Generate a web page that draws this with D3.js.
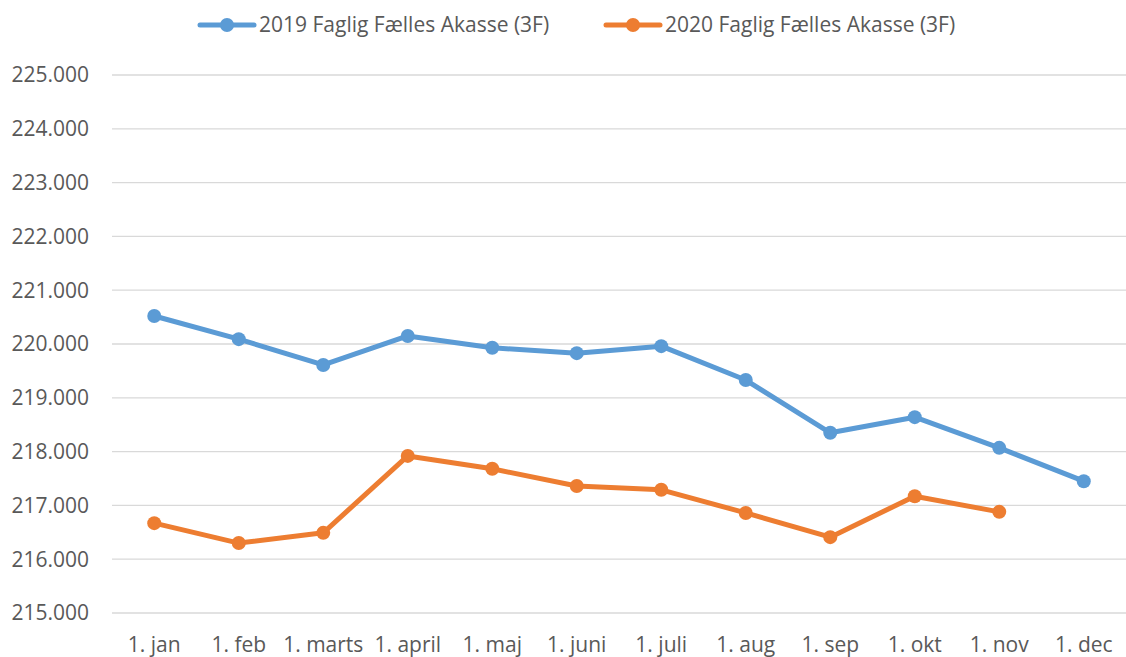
<!DOCTYPE html>
<html>
<head>
<meta charset="utf-8">
<script src="https://cdn.jsdelivr.net/npm/d3@7"></script>
<style>
  body { margin: 0; background: #fff; }
  text { font-family: "Open Sans", sans-serif; fill: #595959; }
</style>
</head>
<body>
<div id="chart"></div>
<script>
var months = ["1. jan", "1. feb", "1. marts", "1. april", "1. maj", "1. juni",
              "1. juli", "1. aug", "1. sep", "1. okt", "1. nov", "1. dec"];

var values2019 = [220.52, 220.09, 219.61, 220.15, 219.93, 219.83,
                  219.96, 219.33, 218.35, 218.64, 218.07, 217.45];
var values2020 = [216.67, 216.30, 216.49, 217.92, 217.68, 217.36,
                  217.29, 216.86, 216.41, 217.17, 216.88];

var yTicks = [215, 216, 217, 218, 219, 220, 221, 222, 223, 224, 225];

var seriesNames = ["2019 Faglig Fælles Akasse (3F)", "2020 Faglig Fælles Akasse (3F)"];
var seriesColors = ["#5B9BD5", "#ED7D31"];

var W = 1126, H = 657;
var margin = {top: 75, left: 112, right: 0, bottom: 44},
    width  = W - margin.left - margin.right,
    height = H - margin.top - margin.bottom;

var svg = d3.select("#chart").append("svg")
    .attr("width", W)
    .attr("height", H);

var g = svg.append("g").attr("transform", "translate(" + margin.left + "," + margin.top + ")");

var x = d3.scaleBand().domain(months).range([0, width]);
var y = d3.scaleLinear().domain([215, 225]).range([538, 0]);

// gridlines
g.selectAll(".grid").data(yTicks).enter()
  .append("line")
  .attr("class", "grid")
  .attr("x1", 0)
  .attr("x2", width)
  .attr("y1", function(d) { return y(d); })
  .attr("y2", function(d) { return y(d); })
  .attr("stroke", "#D9D9D9")
  .attr("stroke-width", 1.3);

// y labels
g.selectAll(".ylab").data(yTicks).enter()
  .append("text")
  .attr("class", "ylab")
  .attr("x", -23)
  .attr("y", function(d) { return y(d); })
  .attr("dy", "0.35em")
  .attr("text-anchor", "end")
  .attr("font-size", 21)
  .text(function(d) { return d3.format(".3f")(d).replace(",", "."); });

// x labels
g.selectAll(".xlab").data(months).enter()
  .append("text")
  .attr("class", "xlab")
  .attr("x", function(d) { return x(d) + x.bandwidth() / 2; })
  .attr("y", 538 + 39)
  .attr("text-anchor", "middle")
  .attr("font-size", 21)
  .text(function(d) { return d; });

var line = d3.line()
  .x(function(d, i) { return x(months[i]) + x.bandwidth() / 2; })
  .y(function(d) { return y(d); });

[values2019, values2020].forEach(function(vals, k) {
  g.append("path")
    .datum(vals)
    .attr("fill", "none")
    .attr("stroke", seriesColors[k])
    .attr("stroke-width", 5)
    .attr("stroke-linejoin", "round")
    .attr("d", line);

  g.selectAll(".pt" + k).data(vals).enter()
    .append("circle")
    .attr("class", "pt" + k)
    .attr("cx", function(d, i) { return x(months[i]) + x.bandwidth() / 2; })
    .attr("cy", function(d) { return y(d); })
    .attr("r", 7)
    .attr("fill", seriesColors[k]);
});

// legend
var legendX = [200, 606];
var leg = svg.selectAll(".legend").data(seriesNames).enter()
  .append("g")
  .attr("class", "legend")
  .attr("transform", function(d, i) { return "translate(" + legendX[i] + ",25)"; });

leg.append("line")
  .attr("x1", 0).attr("x2", 54)
  .attr("y1", 0).attr("y2", 0)
  .attr("stroke", function(d, i) { return seriesColors[i]; })
  .attr("stroke-width", 5)
  .attr("stroke-linecap", "round");

leg.append("circle")
  .attr("cx", 27).attr("cy", 0).attr("r", 7)
  .attr("fill", function(d, i) { return seriesColors[i]; });

leg.append("text")
  .attr("x", 59)
  .attr("y", 0)
  .attr("dy", "0.35em")
  .attr("font-size", 21)
  .text(function(d) { return d; });
</script>
</body>
</html>
